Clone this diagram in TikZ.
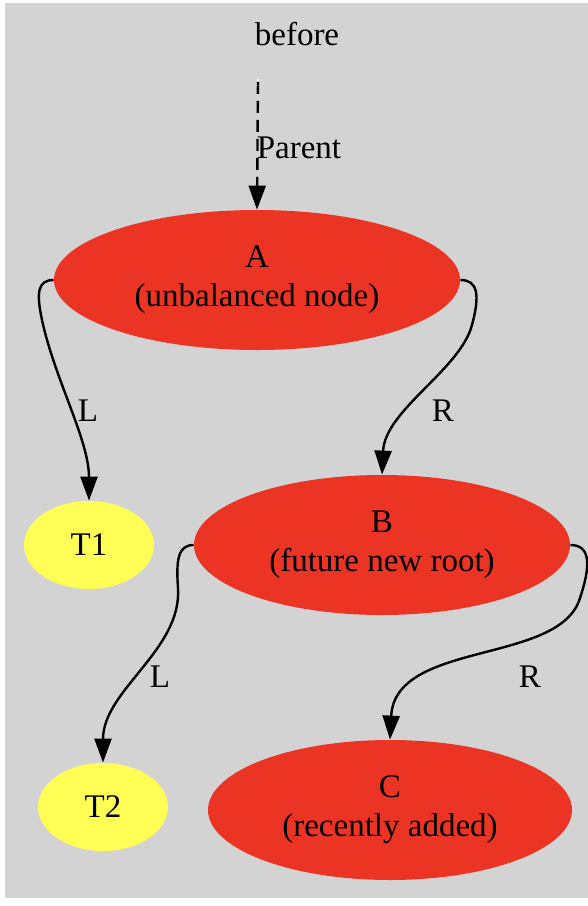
\documentclass[tikz,border=0pt]{standalone}
\usepackage{fontspec}
\setmainfont{Liberation Serif}
\usetikzlibrary{arrows.meta,shapes.geometric}
\definecolor{nodered}{RGB}{235,52,36}
\definecolor{leafyellow}{RGB}{255,255,85}
\definecolor{panelgray}{RGB}{211,211,211}

\begin{document}
\begin{tikzpicture}[x=0.5pt,y=-0.5pt,
      font=\fontsize{16.5}{19.5}\selectfont,
      redn/.style={ellipse, fill=nodered, inner sep=0pt, align=center,
                   minimum height=70pt},
      leaf/.style={ellipse, fill=leafyellow, inner sep=0pt,
                   minimum width=65pt, minimum height=44pt},
      lbl/.style={inner sep=0pt},
      arr/.style={-{Triangle[length=12pt,width=8.5pt]}, line width=1.2pt}
  ]
    \useasboundingbox (0,0) rectangle (588,906);
    \fill[panelgray] (5,3) rectangle (588,898);
    \node[lbl] (title) at (297,34) {before};

    \node[circle, fill=white, inner sep=0pt, minimum size=1.5pt] (top) at (258,80) {};
    \node[redn, minimum width=203pt] (A) at (257,280) {A\\(unbalanced node)};
    \node[leaf] (T1) at (89,545) {T1};
    \node[redn, minimum width=188pt] (B) at (382,545) {B\\(future new root)};
    \node[leaf] (T2) at (103,807) {T2};
    \node[redn, minimum width=182pt] (C) at (390,810) {C\\(recently added)};

    % edges
    \draw[arr, dash pattern=on 6pt off 3.5pt] (top) -- (A.north);
    \node[lbl] (parent) at (299,148) {Parent};

    \draw[arr] (A.west) .. controls (38,280) and (36,292) .. (42,320)
               .. controls (55,380) and (89,440) .. (T1.north);
    \node[lbl] (aL) at (88,411) {L};

    \draw[arr] (A.east) .. controls (478,280) and (480,295) .. (472,325)
               .. controls (460,370) and (385,410) .. (B.north);
    \node[lbl] (aR) at (443,411) {R};

    \draw[arr] (B.west) .. controls (178,545) and (176,560) .. (178,588)
               .. controls (182,650) and (103,690) .. (T2.north);
    \node[lbl] (bL) at (160,677) {L};

    \draw[arr] (B.east) .. controls (592,545) and (590,568) .. (580,598)
               .. controls (560,665) and (395,640) .. (C.north);
    \node[lbl] (bR) at (530,677) {R};
  \end{tikzpicture}
\end{document}
